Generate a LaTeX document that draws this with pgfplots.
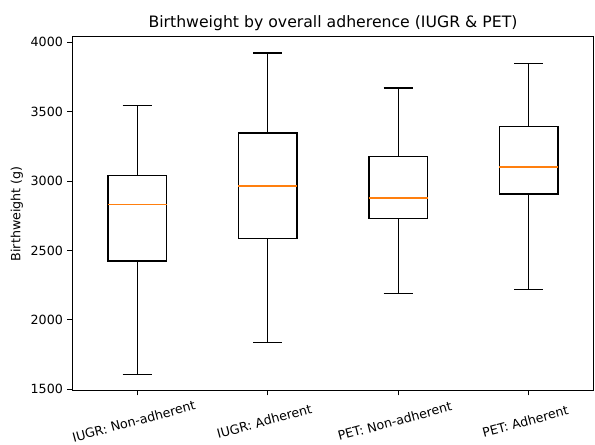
\documentclass[border=0pt]{standalone}
\usepackage{pgfplots}
\pgfplotsset{compat=1.18}
\usepackage{fontspec}
\setmainfont{DejaVu Sans}
\definecolor{mplorange}{HTML}{FF7F0E}
\begin{document}
\begin{tikzpicture}
\begin{axis}[
  at={(0,0)}, anchor=south west,
  scale only axis,
  width=412.4pt, height=279.7pt,
  xmin=0.5, xmax=4.5,
  ymin=1490, ymax=4040,
  xtick={1,2,3,4},
  xticklabels={IUGR: Non-adherent, IUGR: Adherent, PET: Non-adherent, PET: Adherent},
  ytick={1500,2000,2500,3000,3500,4000},
  tick align=outside, tick pos=left,
  major tick length=3.7pt,
  every tick/.style={black, line width=0.8pt},
  axis line style={line width=0.8pt},
  /pgf/number format/assume math mode=true,
  /pgf/number format/1000 sep={},
  tick label style={font=\fontsize{10}{12}\selectfont},
  xticklabel style={rotate=15, anchor=center, inner sep=0pt, xshift=-7.9pt, yshift=-19pt},
  ylabel={Birthweight (g)},
  ylabel style={font=\fontsize{10}{12}\selectfont, at={(axis description cs:0,0.5)}, anchor=center, yshift=43.5pt},
  title={Birthweight by overall adherence (IUGR \& PET)},
  title style={font=\fontsize{12.4}{14}\selectfont, at={(axis description cs:0.5,1)}, anchor=base, yshift=1.5pt},
  unbounded coords=jump,
  clip=false,
]
% ---- Box 1: IUGR Non-adherent (LW 1606, Q1 2424, Med 2832, Q3 3040, UW 3544)
\addplot[black, line width=1.15pt, mark=none] coordinates {(0.775,2424) (1.225,2424) (1.225,3040) (0.775,3040)} -- cycle;
\addplot[black, line width=1.15pt, mark=none] coordinates {(1,3040) (1,3544) (1,nan) (0.8875,3544) (1.1125,3544) (1,nan) (1,2424) (1,1606) (1,nan) (0.8875,1606) (1.1125,1606)};
\addplot[mplorange, line width=1.35pt, mark=none] coordinates {(0.775,2832) (1.225,2832)};
% ---- Box 2: IUGR Adherent (LW 1836, Q1 2587, Med 2966, Q3 3345, UW 3924)
\addplot[black, line width=1.15pt, mark=none] coordinates {(1.775,2587) (2.225,2587) (2.225,3345) (1.775,3345)} -- cycle;
\addplot[black, line width=1.15pt, mark=none] coordinates {(2,3345) (2,3924) (2,nan) (1.8875,3924) (2.1125,3924) (2,nan) (2,2587) (2,1836) (2,nan) (1.8875,1836) (2.1125,1836)};
\addplot[mplorange, line width=1.35pt, mark=none] coordinates {(1.775,2966) (2.225,2966)};
% ---- Box 3: PET Non-adherent (LW 2189, Q1 2731, Med 2879, Q3 3179, UW 3672)
\addplot[black, line width=1.15pt, mark=none] coordinates {(2.775,2731) (3.225,2731) (3.225,3179) (2.775,3179)} -- cycle;
\addplot[black, line width=1.15pt, mark=none] coordinates {(3,3179) (3,3672) (3,nan) (2.8875,3672) (3.1125,3672) (3,nan) (3,2731) (3,2189) (3,nan) (2.8875,2189) (3.1125,2189)};
\addplot[mplorange, line width=1.35pt, mark=none] coordinates {(2.775,2879) (3.225,2879)};
% ---- Box 4: PET Adherent (LW 2218, Q1 2906, Med 3103, Q3 3393, UW 3847)
\addplot[black, line width=1.15pt, mark=none] coordinates {(3.775,2906) (4.225,2906) (4.225,3393) (3.775,3393)} -- cycle;
\addplot[black, line width=1.15pt, mark=none] coordinates {(4,3393) (4,3847) (4,nan) (3.8875,3847) (4.1125,3847) (4,nan) (4,2906) (4,2218) (4,nan) (3.8875,2218) (4.1125,2218)};
\addplot[mplorange, line width=1.35pt, mark=none] coordinates {(3.775,3103) (4.225,3103)};
\end{axis}
\pgfresetboundingbox
\path (-56.9pt,-42.1pt) rectangle (413.2pt,308.7pt);
\end{tikzpicture}
\end{document}
